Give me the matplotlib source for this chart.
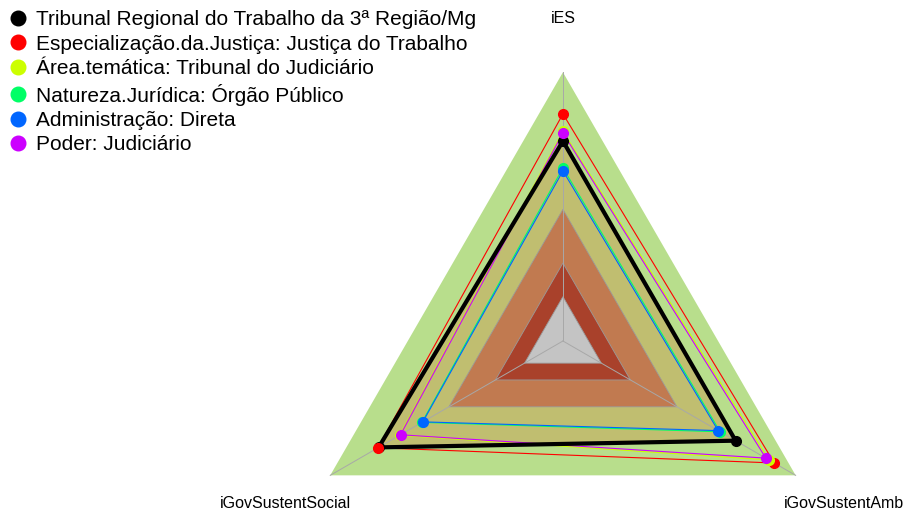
import numpy as np
import matplotlib
matplotlib.use("Agg")
import matplotlib.pyplot as plt
from matplotlib.lines import Line2D

plt.rcParams['font.family'] = ['Liberation Sans', 'DejaVu Sans']

# axes of the radar, counter-clockwise from the top
eixos = ["iES", "iGovSustentSocial", "iGovSustentAmb"]
angulos = np.deg2rad([90, 210, 330])

# background bands (outer limit of each band, fraction of full scale)
faixas = [1.0, 0.49, 0.29, 0.165]
cores_faixas = ["#b8de8c", "#c17a50", "#a9412b", "#c4c4c4"]

nomes = ["Tribunal Regional do Trabalho da 3ª Região/Mg",
         "Especialização.da.Justiça: Justiça do Trabalho",
         "Área.temática: Tribunal do Judiciário",
         "Natureza.Jurídica: Órgão Público",
         "Administração: Direta",
         "Poder: Judiciário"]
cores = ["#000000", "#ff0000", "#ccff00", "#00ff66", "#0066ff", "#cc00ff"]

# values in the same order as eixos (iES, iGovSustentSocial, iGovSustentAmb)
trt3 = [0.744, 0.792, 0.742]
especializacao = [0.845, 0.795, 0.908]
area_tematica = [0.780, 0.702, 0.885]
natureza = [0.644, 0.606, 0.676]
administracao = [0.633, 0.602, 0.667]
poder = [0.774, 0.698, 0.872]
series = [trt3, especializacao, area_tematica, natureza, administracao, poder]


def xy(valores):
    v = np.asarray(valores, dtype=float)
    x = v * np.cos(angulos)
    y = v * np.sin(angulos)
    return np.append(x, x[0]), np.append(y, y[0])


fig = plt.figure(figsize=(9.05, 5.15), dpi=100)
ax = fig.add_axes([0, 0, 1, 1])
ax.set_xlim(-2.095, 1.273)
ax.set_ylim(-0.6476, 1.269)
ax.axis("off")

# green outer band, then the filled polygon of the main unit, then inner bands
x, y = xy([faixas[0]] * 3)
ax.fill(x, y, color=cores_faixas[0], lw=0, zorder=1)
x, y = xy(trt3)
ax.fill(x, y, color="#c0be70", lw=0, zorder=2)
for r, c in zip(faixas[1:], cores_faixas[1:]):
    x, y = xy([r] * 3)
    ax.fill(x, y, facecolor=c, edgecolor="#9a9a9a", lw=0.6, zorder=3)

# spokes
for a in angulos:
    ax.plot([0, np.cos(a)], [0, np.sin(a)], color="#a8a8a8", lw=0.7, zorder=4)

# series, drawn so the main unit ends up on top
ordem = [1, 2, 3, 4, 5, 0]
for i in ordem:
    x, y = xy(series[i])
    lw = 3.0 if i == 0 else 0.8
    ax.plot(x, y, color=cores[i], lw=lw, zorder=5 + (i == 0))
for i in [0, 1, 2, 3, 4, 5]:
    x, y = xy(series[i])
    ax.plot(x[:-1], y[:-1], "o", color=cores[i], ms=7, zorder=7)

# axis labels
ax.text(0, 1.199, eixos[0], ha="center", va="center", fontsize=11.5)
ax.text(np.cos(angulos[1]) - 0.166, -0.606, eixos[1], ha="center", va="center", fontsize=11.5)
ax.text(np.cos(angulos[2]) + 0.18, -0.606, eixos[2], ha="center", va="center", fontsize=11.5)

handles = [Line2D([], [], ls="none", marker="o", ms=10.5, color=c) for c in cores]
ax.legend(handles, nomes, loc="upper left", bbox_to_anchor=(0.004, 0.992),
          frameon=False, fontsize=15, handlelength=0.8, handletextpad=0.45,
          labelspacing=0.26, borderaxespad=0.2, borderpad=0.1)

fig.savefig("out.png", dpi=100)
